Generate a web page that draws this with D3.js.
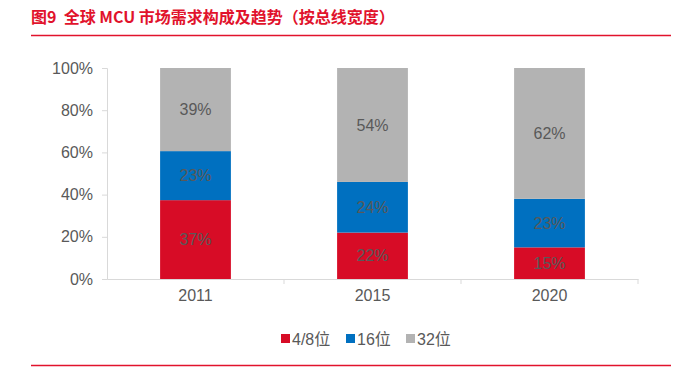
<!DOCTYPE html>
<html>
<head>
<meta charset="utf-8">
<script src="https://cdn.jsdelivr.net/npm/d3@7"></script>
<style>
  body { margin: 0; background: #fff; }
  svg { display: block; font-family: "Liberation Sans", Arial, "Noto Sans CJK SC", sans-serif; }
</style>
</head>
<body>
<div id="chart"></div>
<script>
// Data
const years = ["2011", "2015", "2020"];
const seriesNames = ["4/8位", "16位", "32位"];
const share8 = [37, 22, 15];
const share16 = [23, 24, 23];
const share32 = [39, 54, 62];
const yTicks = [0, 0.2, 0.4, 0.6, 0.8, 1];
const colors = ["#d70c26", "#0070c0", "#b3b3b3"];

const width = 699, height = 367;
const margin = { top: 68, right: 61, bottom: 88, left: 107 };

const svg = d3.select("#chart").append("svg")
  .attr("width", width)
  .attr("height", height);

// Title and rules
svg.append("text")
  .attr("x", 31)
  .attr("y", 23)
  .attr("fill", "#e1132c")
  .attr("font-size", 16)
  .attr("font-weight", "bold")
  .attr("font-family", "'Noto Sans CJK SC', sans-serif")
  .style("white-space", "pre")
  .text("图9  全球 MCU 市场需求构成及趋势（按总线宽度）");

svg.append("line")
  .attr("x1", 31).attr("x2", 671)
  .attr("y1", 35.5).attr("y2", 35.5)
  .attr("stroke", "#e1132c").attr("stroke-width", 1.5);

svg.append("line")
  .attr("x1", 31).attr("x2", 671)
  .attr("y1", 365.5).attr("y2", 365.5)
  .attr("stroke", "#e1132c").attr("stroke-width", 1.5);

// Stack data
const table = years.map((y, i) => ({
  year: y,
  [seriesNames[0]]: share8[i],
  [seriesNames[1]]: share16[i],
  [seriesNames[2]]: share32[i]
}));

const stacked = d3.stack()
  .keys(seriesNames)
  .offset(d3.stackOffsetExpand)(table);

const x = d3.scaleBand()
  .domain(years)
  .range([margin.left, width - margin.right])
  .paddingInner(0.6)
  .paddingOuter(0.3);

const y = d3.scaleLinear()
  .domain([0, 1])
  .range([height - margin.bottom, margin.top]);

// Axes
const yAxis = svg.append("g")
  .attr("transform", `translate(${margin.left},0)`)
  .call(d3.axisLeft(y).tickValues(yTicks).tickFormat(d3.format(".0%")).tickSize(5).tickPadding(9));
yAxis.select(".domain").attr("stroke", "#d9d9d9");
yAxis.selectAll(".tick line").attr("stroke", "#d9d9d9");
yAxis.selectAll("text").attr("fill", "#595959").attr("font-size", 16)
  .attr("font-family", "'Liberation Sans', Arial, sans-serif");

const xBand = d3.scaleBand().domain(years).range([margin.left, width - margin.right]);
const xAxis = svg.append("g")
  .attr("transform", `translate(0,${height - margin.bottom})`)
  .call(d3.axisBottom(xBand).tickSize(0).tickPadding(11));
xAxis.select(".domain").attr("stroke", "#d9d9d9");
xAxis.selectAll("text").attr("fill", "#595959").attr("font-size", 16)
  .attr("font-family", "'Liberation Sans', Arial, sans-serif");

// category separators on the x axis
svg.append("g")
  .selectAll("line")
  .data(years.slice(1).concat(["end"]))
  .join("line")
  .attr("x1", d => d === "end" ? width - margin.right : xBand(d))
  .attr("x2", d => d === "end" ? width - margin.right : xBand(d))
  .attr("y1", height - margin.bottom)
  .attr("y2", height - margin.bottom + 5)
  .attr("stroke", "#d9d9d9");

// Bars
const layer = svg.append("g")
  .selectAll("g")
  .data(stacked)
  .join("g")
  .attr("fill", (d, i) => colors[i]);

layer.selectAll("rect")
  .data(d => d)
  .join("rect")
  .attr("x", d => x(d.data.year))
  .attr("y", d => y(d[1]))
  .attr("width", x.bandwidth())
  .attr("height", d => y(d[0]) - y(d[1]));

// Value labels
layer.each(function (s) {
  d3.select(this).selectAll("text")
    .data(s)
    .join("text")
    .attr("x", d => x(d.data.year) + x.bandwidth() / 2)
    .attr("y", d => (y(d[0]) + y(d[1])) / 2)
    .attr("dy", "0.35em")
    .attr("text-anchor", "middle")
    .attr("fill", "#595959")
    .attr("font-size", 16)
    .attr("font-family", "'Liberation Sans', Arial, sans-serif")
    .text(d => d.data[s.key] + "%");
});

// Legend
const legendX = [281, 346, 406];
const legend = svg.append("g")
  .selectAll("g")
  .data(seriesNames)
  .join("g")
  .attr("transform", (d, i) => `translate(${legendX[i]},334)`);

legend.append("rect")
  .attr("width", 9).attr("height", 9)
  .attr("fill", (d, i) => colors[i]);

legend.append("text")
  .attr("x", 11)
  .attr("y", 5)
  .attr("dy", "0.35em")
  .attr("fill", "#595959")
  .attr("font-size", 16)
  .attr("font-family", "'Liberation Sans', 'Noto Sans CJK SC', sans-serif")
  .text(d => d);
</script>
</body>
</html>
